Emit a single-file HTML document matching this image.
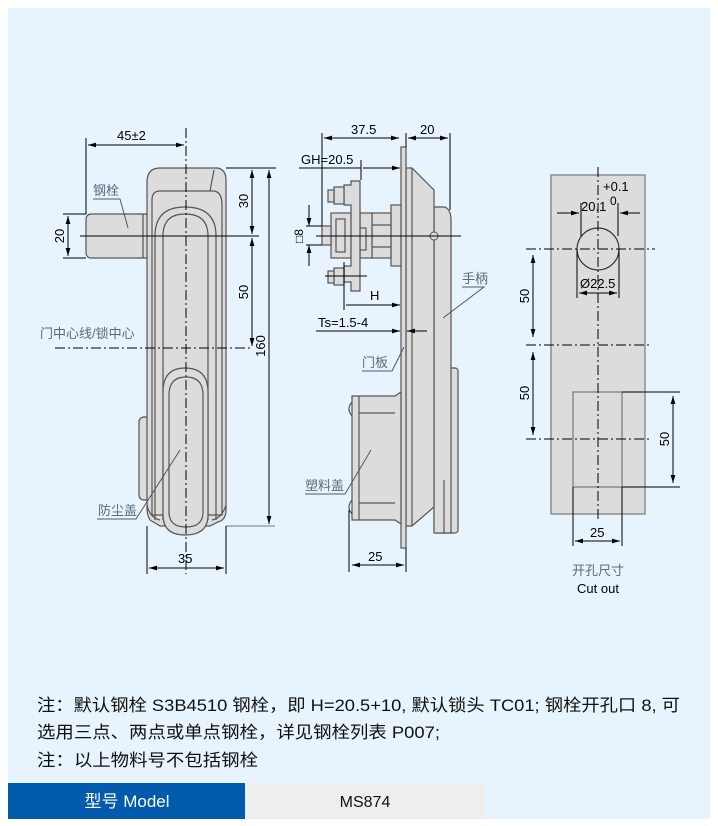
<!DOCTYPE html>
<html><head><meta charset="utf-8"><style>
body{margin:0;background:#fff;width:718px;height:826px;overflow:hidden;font-family:"Liberation Sans","Noto Sans CJK SC",sans-serif}
svg{position:absolute;left:0;top:0}
</style></head><body>
<svg width="718" height="826" viewBox="0 0 718 826" font-family="Liberation Sans, Noto Sans CJK SC, sans-serif">
<defs>
<marker id="a" viewBox="0 0 10 6" refX="10" refY="3" markerWidth="8" markerHeight="5" orient="auto-start-reverse"><path d="M0,0 L10,3 L0,6 z" fill="#000"/></marker>
</defs>
<rect x="8" y="8" width="702" height="811" fill="#e7f4fd"/>
<g stroke="#555" stroke-width="1.2" fill="#dcdcdc">
<rect x="139" y="417" width="12" height="83" rx="5"/>
<rect x="86" y="214" width="64" height="44" rx="5"/>
<line x1="143" y1="214" x2="143" y2="258"/>
<path d="M160,168 L218,168 Q226,170 226,180 L226,510 Q226,520 218,522 L210,526 L160,526 L150,520 Q147,515 147,508 L147,182 Q147,168 160,168 z"/>
<path d="M160,191 L214,191 Q222,192 222,205 L222,515 L152,515 L152,200 Q152,191 160,191 z" fill="none"/>
<path d="M214,170 L210,191" fill="none"/>
<path d="M155,520 L155,236 Q155,207 185,207 Q216,207 216,236 L216,520" fill="none"/>
<path d="M163,520 L163,236 Q163,214 185,214 Q208,214 208,236 L208,520" fill="none"/>
<path d="M163,520 L163,392 Q163,368 185,368 Q208,368 208,392 L208,515 Q208,535 185,535 Q163,535 163,515 z"/>
<path d="M169,515 L169,395 Q169,377 186,377 Q203,377 203,395 L203,512 Q203,527 186,527 Q169,527 169,512 z" fill="none"/>
<path d="M147,505 Q150,518 160,520 M226,505 Q222,518 212,520" fill="none"/>
<rect x="434" y="368" width="24" height="165" rx="3"/>
<path d="M434,207 L445,207 Q451,210 451,220 L451,533 L434,533 z"/>
<line x1="444" y1="480" x2="444" y2="533"/>
<path d="M406,168 L412,168 L434,190 L434,507 L412,526 L406,526 z"/>
<line x1="412" y1="168" x2="412" y2="526"/>
<rect x="401" y="147" width="5" height="401"/>
<path d="M352,396 L395,396 L401,392 L401,524 L395,520 L352,520 z"/>
<line x1="359" y1="396" x2="359" y2="520"/>
<line x1="359" y1="413" x2="395" y2="413"/><line x1="359" y1="503" x2="395" y2="503"/>
<path d="M352,402 Q346,409 352,416 M352,500 Q346,507 352,514" fill="none"/>
<rect x="391" y="205" width="10" height="61"/>
<rect x="372" y="213" width="19" height="45"/>
<line x1="372" y1="225" x2="391" y2="225"/><line x1="372" y1="247" x2="391" y2="247"/>
<rect x="360" y="213" width="12" height="45"/>
<rect x="360" y="228" width="6" height="22"/>
<rect x="331" y="213" width="20" height="45"/>
<rect x="336" y="219" width="9" height="33"/>
<rect x="322" y="226" width="9" height="19"/>
<path d="M351,181 L360,181 L360,291 L351,291 L351,282 L344,282 L344,266 L351,266 L351,205 L344,205 L344,185 L351,185 z"/>
<rect x="334" y="187" width="10" height="17"/><rect x="328" y="190" width="6" height="12"/>
<rect x="334" y="268" width="10" height="17"/><rect x="328" y="271" width="6" height="12"/>
<rect x="551" y="175" width="94" height="339" stroke="#777"/>
<circle cx="598" cy="249" r="21" fill="none" stroke="#333"/>
<rect x="573" y="392" width="49" height="95" stroke="#777"/>
</g>
<circle cx="434" cy="236" r="4" fill="#dcdcdc" stroke="#555"/>
<g stroke="#000" stroke-width="1" fill="none">
<line x1="186" y1="128" x2="186" y2="574" stroke-dasharray="10,3,2,3"/>
<line x1="55" y1="348" x2="253" y2="348" stroke-dasharray="10,3,2,3"/>
<line x1="80" y1="236" x2="259" y2="236"/>
<line x1="316" y1="236" x2="461" y2="236"/>
<line x1="598" y1="167" x2="598" y2="522" stroke-dasharray="10,3,2,3"/>
<line x1="526" y1="249" x2="655" y2="249" stroke-dasharray="10,3,2,3"/>
<line x1="526" y1="345" x2="652" y2="345" stroke-dasharray="10,3,2,3"/>
<line x1="526" y1="439" x2="652" y2="439" stroke-dasharray="10,3,2,3"/>
<line x1="86" y1="138" x2="86" y2="214"/>
<line x1="88" y1="145" x2="184" y2="145" marker-start="url(#a)" marker-end="url(#a)"/>
<line x1="63" y1="214" x2="86" y2="214"/><line x1="63" y1="258" x2="86" y2="258"/>
<line x1="68" y1="216" x2="68" y2="256" marker-start="url(#a)" marker-end="url(#a)"/>
<line x1="226" y1="168" x2="276" y2="168"/>
<line x1="226" y1="526" x2="275" y2="526" stroke="#777"/>
<line x1="252" y1="170" x2="252" y2="234" marker-start="url(#a)" marker-end="url(#a)"/>
<line x1="252" y1="238" x2="252" y2="346" marker-start="url(#a)" marker-end="url(#a)"/>
<line x1="269" y1="170" x2="269" y2="524" marker-start="url(#a)" marker-end="url(#a)"/>
<line x1="147" y1="526" x2="147" y2="574"/><line x1="226" y1="526" x2="226" y2="574"/>
<line x1="149" y1="568" x2="224" y2="568" marker-start="url(#a)" marker-end="url(#a)"/>
<line x1="322" y1="133" x2="322" y2="226"/><line x1="406" y1="133" x2="406" y2="147"/>
<line x1="450" y1="133" x2="450" y2="210"/>
<line x1="324" y1="138" x2="399" y2="138" marker-start="url(#a)" marker-end="url(#a)"/>
<line x1="408" y1="138" x2="448" y2="138" marker-start="url(#a)" marker-end="url(#a)"/>
<line x1="299" y1="168" x2="361" y2="168"/><line x1="361" y1="160" x2="361" y2="180"/>
<line x1="363" y1="168" x2="400" y2="168" marker-end="url(#a)"/>
<line x1="306" y1="226" x2="322" y2="226"/><line x1="306" y1="245" x2="322" y2="245"/>
<line x1="309" y1="205" x2="309" y2="226" marker-end="url(#a)"/>
<line x1="309" y1="266" x2="309" y2="245" marker-end="url(#a)"/>
<line x1="322" y1="180" x2="322" y2="226"/>
<line x1="344" y1="262" x2="344" y2="310"/>
<line x1="346" y1="305" x2="400" y2="305" marker-end="url(#a)"/>
<line x1="316" y1="331" x2="400" y2="331" marker-end="url(#a)"/>
<line x1="427" y1="331" x2="407" y2="331" marker-end="url(#a)"/>
<line x1="349" y1="510" x2="349" y2="572"/><line x1="406" y1="548" x2="406" y2="572"/>
<line x1="352" y1="565" x2="404" y2="565" marker-start="url(#a)" marker-end="url(#a)"/>
<line x1="325" y1="276" x2="367" y2="276"/>
<line x1="557" y1="213" x2="579" y2="213" marker-end="url(#a)"/>
<line x1="640" y1="213" x2="620" y2="213" marker-end="url(#a)"/>
<line x1="581" y1="203" x2="581" y2="236"/><line x1="618" y1="203" x2="618" y2="236"/>
<line x1="577" y1="249" x2="577" y2="298"/><line x1="619" y1="249" x2="619" y2="298"/>
<line x1="579" y1="293" x2="617" y2="293" marker-start="url(#a)" marker-end="url(#a)"/>
<line x1="533" y1="255" x2="533" y2="337" marker-start="url(#a)" marker-end="url(#a)"/>
<line x1="533" y1="352" x2="533" y2="435" marker-start="url(#a)" marker-end="url(#a)"/>
<line x1="622" y1="392" x2="680" y2="392"/><line x1="622" y1="487" x2="680" y2="487"/>
<line x1="673" y1="396" x2="673" y2="483" marker-start="url(#a)" marker-end="url(#a)"/>
<line x1="573" y1="487" x2="573" y2="546"/><line x1="622" y1="487" x2="622" y2="546"/>
<line x1="575" y1="541" x2="620" y2="541" marker-start="url(#a)" marker-end="url(#a)"/>
</g>
<g stroke="#556" stroke-width="1" fill="none">
<polyline points="93,199 120,199 128,228"/>
<polyline points="97,519 136,519 180,450"/>
<polyline points="462,287 484,287 443,318"/>
<polyline points="362,371 392,371 404,347"/>
<polyline points="305,494 345,494 371,450"/>
</g>
<g font-size="13" fill="#000">
<text x="117" y="140">45±2</text>
<text x="351" y="134">37.5</text>
<text x="420" y="134">20</text>
<text x="301" y="164">GH=20.5</text>
<text x="370" y="300">H</text>
<text x="318" y="327">Ts=1.5-4</text>
<text x="178" y="563">35</text>
<text x="368" y="561">25</text>
<text x="590" y="537">25</text>
<text x="603" y="191">+0.1</text>
<text x="581" y="211">20.1</text><text x="610" y="205" font-size="12">0</text>
<text x="580" y="288">Ø22.5</text>
<text transform="translate(64,236) rotate(-90)" text-anchor="middle">20</text>
<text transform="translate(248,201) rotate(-90)" text-anchor="middle">30</text>
<text transform="translate(248,292) rotate(-90)" text-anchor="middle">50</text>
<text transform="translate(265,346) rotate(-90)" text-anchor="middle">160</text>
<text transform="translate(529,296) rotate(-90)" text-anchor="middle">50</text>
<text transform="translate(529,393) rotate(-90)" text-anchor="middle">50</text>
<text transform="translate(669,439) rotate(-90)" text-anchor="middle">50</text>
<text transform="translate(303,236) rotate(-90)" text-anchor="middle" font-size="12">□8</text>
<text x="598" y="593" text-anchor="middle">Cut out</text>
</g>
<g font-size="13" fill="#5a6a7c">
<text x="93" y="195">钢栓</text>
<text x="40" y="338">门中心线/锁中心</text>
<text x="98" y="515">防尘盖</text>
<text x="462" y="283">手柄</text>
<text x="362" y="367">门板</text>
<text x="305" y="490">塑料盖</text>
<text x="598" y="575" text-anchor="middle">开孔尺寸</text>
</g>
<g font-size="17" fill="#111">
<text x="37" y="711" textLength="643" lengthAdjust="spacingAndGlyphs">注：默认钢栓 S3B4510 钢栓，即 H=20.5+10, 默认锁头 TC01; 钢栓开孔口 8, 可</text>
<text x="37" y="738" textLength="403" lengthAdjust="spacingAndGlyphs">选用三点、两点或单点钢栓，详见钢栓列表 P007;</text>
<text x="37" y="766" textLength="221" lengthAdjust="spacingAndGlyphs">注：以上物料号不包括钢栓</text>
</g>
<rect x="8" y="783" width="237" height="36" fill="#005bac"/>
<rect x="247" y="783" width="237" height="36" fill="#eeeeee"/>
<text x="127" y="807" text-anchor="middle" font-size="17" fill="#fff">型号 Model</text>
<text x="365" y="807" text-anchor="middle" font-size="16" fill="#111">MS874</text>
</svg>
</body></html>
